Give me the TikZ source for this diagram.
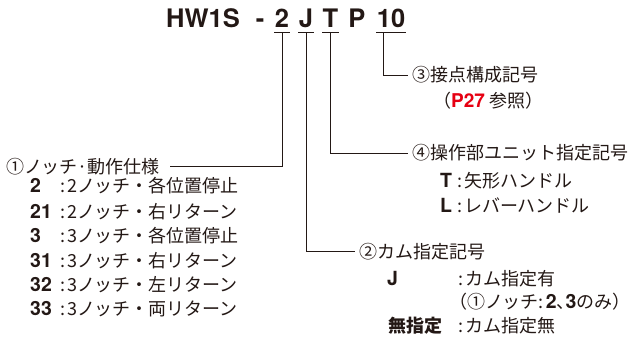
\documentclass[tikz,border=0pt]{standalone}
\usepackage{fontspec}
\setmainfont{Noto Sans CJK JP}
\newfontfamily\hv{TeX Gyre Heros}
\definecolor{ink}{RGB}{35,24,21}
\definecolor{pred}{RGB}{230,0,18}
\newcommand\lpar{\makebox[10pt][r]{（}}
\newcommand\rpar{\makebox[10pt][l]{）}}
\newcommand\tcomma{\makebox[9pt][l]{、}}
\begin{document}
\begin{tikzpicture}[x=1pt,y=-1pt,
  txt/.style={anchor=base west, inner sep=0pt, text=ink, font=\fontsize{18}{20}\selectfont},
  key/.style={txt, font=\hv\bfseries\fontsize{19.5}{21}\selectfont},
  keyj/.style={txt, font=\bfseries\fontsize{18}{20}\selectfont},
  head/.style={txt, inner xsep=4.5pt},
  ttl/.style={anchor=base, inner xsep=0.5pt, inner ysep=0pt, text=ink, font=\hv\bfseries\fontsize{25.5}{28}\selectfont},
  ul/.style={ttl, text depth=0pt, inner ysep=4pt},
  conn/.style={draw=ink, line width=0.9pt}]
\useasboundingbox (0,0) rectangle (638,345);
% title
\node[ttl] (hw) at (203,28) {HW1S};
\node[ttl] (dash) at (260,28) {-};
\node[ul] (d2) at (282,28) {2};
\node[ul] (dJ) at (306,28) {J};
\node[ul] (dT) at (330.5,28) {T};
\node[ttl] (dP) at (357,28) {P};
\node[ul] (d10) at (391,28) {10};
\foreach \n in {d2,dJ,dT,d10} \draw[conn] (\n.south west) -- (\n.south east);
% 3
\node[head] (t3) at (408,82) {③接点構成記号};
\node[txt] (t3n) at (441,107) {\lpar{\hv\bfseries\fontsize{19}{20}\selectfont\color{pred}P27} 参照\rpar};
% 4
\node[head] (t4) at (408,160) {④操作部ユニット指定記号};
\node[key] (kT) at (440,187) {T};
\node[txt] (vT) at (457,187) {:\hspace{2pt}矢形ハンドル};
\node[key] (kL) at (440,212) {L};
\node[txt] (vL) at (457,212) {:\hspace{2pt}レバーハンドル};
% 2
\node[head] (t2) at (355,258) {②カム指定記号};
\node[key] (kJ) at (387,285) {J};
\node[txt] (vJ) at (458,285) {:\hspace{2pt}カム指定有};
\node[txt] (vJ2) at (457,308) {\lpar ①ノッチ:\hspace{2pt}{\hv\bfseries\fontsize{19.5}{21}\selectfont 2}\tcomma{\hv\bfseries\fontsize{19.5}{21}\selectfont 3}のみ\rpar};
\node[keyj] (kN) at (388,332) {無指定};
\node[txt] (vN) at (458,332) {:\hspace{2pt}カム指定無};
% 1
\node[head, anchor=base east, inner xsep=10pt] (t1) at (170,173) {①ノッチ·動作仕様};
\node[key] (k1) at (30,193) {2};
\node[txt] (v1) at (60,193) {:\hspace{2pt}2ノッチ・各位置停止};
\node[key] (k2) at (30,218) {21};
\node[txt] (v2) at (60,218) {:\hspace{2pt}2ノッチ・右リターン};
\node[key] (k3) at (30,242) {3};
\node[txt] (v3) at (60,242) {:\hspace{2pt}3ノッチ・各位置停止};
\node[key] (k4) at (30,267) {31};
\node[txt] (v4) at (60,267) {:\hspace{2pt}3ノッチ・右リターン};
\node[key] (k5) at (30,291) {32};
\node[txt] (v5) at (60,291) {:\hspace{2pt}3ノッチ・左リターン};
\node[key] (k6) at (30,315) {33};
\node[txt] (v6) at (60,315) {:\hspace{2pt}3ノッチ・両リターン};
% connectors
\coordinate (c10) at ([xshift=-8pt]d10.south);
\draw[conn] (c10) |- (t3.west);
\draw[conn] (dT.south) |- (t4.west);
\draw[conn] (dJ.south) |- (t2.west);
\draw[conn] (d2.south) |- (t1.east);
\end{tikzpicture}
\end{document}
